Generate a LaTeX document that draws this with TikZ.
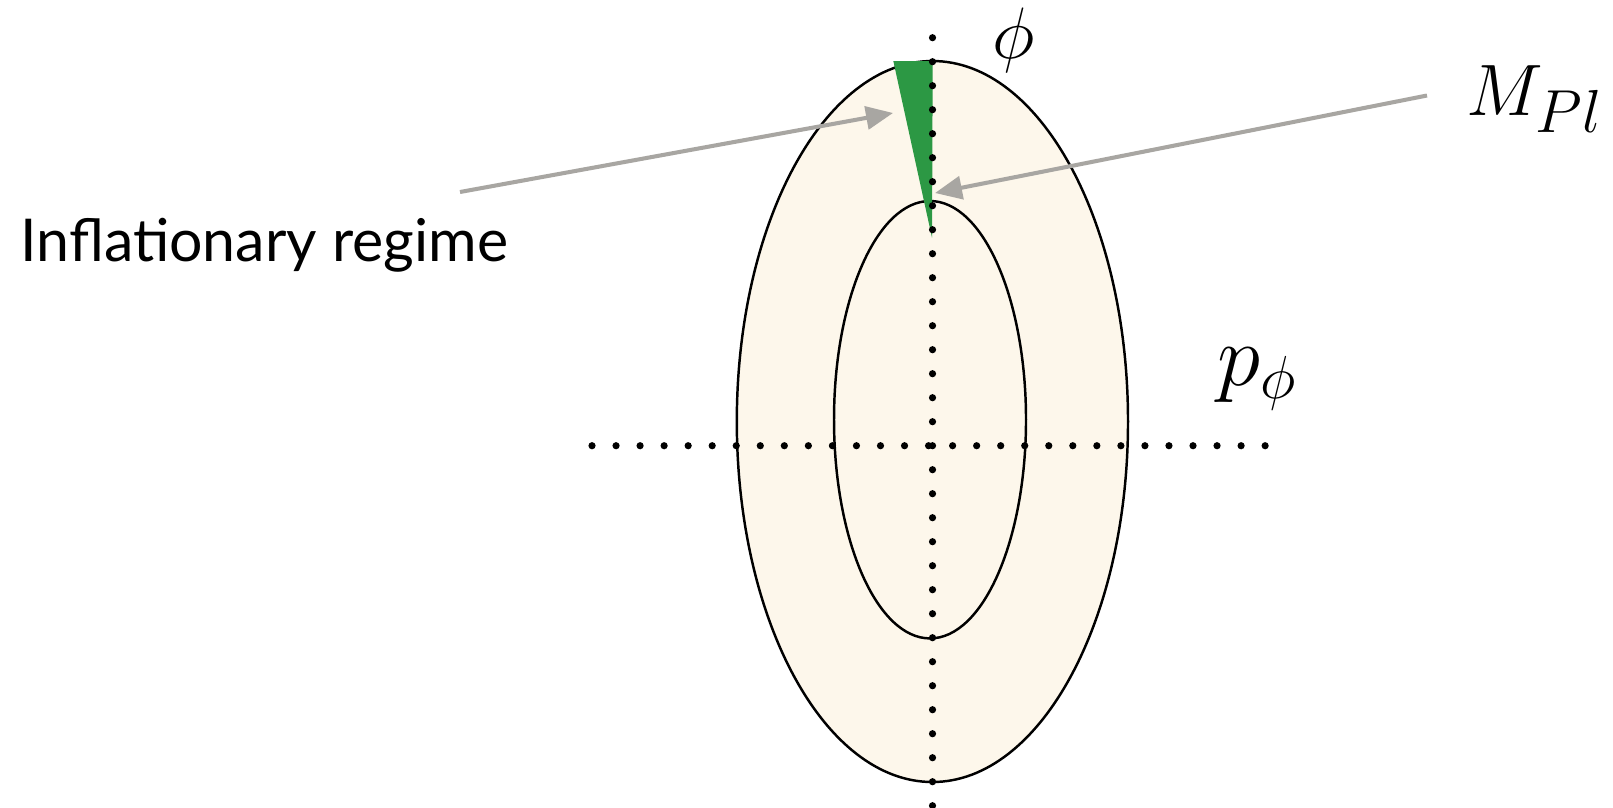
\documentclass[tikz,border=0pt]{standalone}
\usepackage{fontspec}
\newfontfamily\labelfont{Lato}
\usetikzlibrary{arrows.meta}
\definecolor{cream}{RGB}{253,247,235}
\definecolor{wedgegreen}{RGB}{44,152,68}
\definecolor{arrowgray}{RGB}{168,166,162}
\tikzset{
  ring/.style={fill=cream, draw=black, line width=0.7pt},
  axisdot/.style={fill=black},
  pointer/.style={draw=arrowgray, line width=1.15pt, -{Triangle[length=2.7mm,width=2.3mm]}},
  mathlabel/.style={inner sep=0pt, anchor=base west},
  textlabel/.style={inner sep=0pt, anchor=base west, font=\labelfont\fontsize{16.8}{20}\selectfont}
}
\begin{document}
\begin{tikzpicture}[x=0.1mm,y=-0.1mm]
\useasboundingbox (0,0) rectangle (1613,807);
% ellipses
\path[ring] (932.4,421.5) ellipse [x radius=195.6, y radius=360.5];
\path[ring] (930,419.7) ellipse [x radius=96, y radius=218.7];
% green wedge
\fill[wedgegreen] (893.3,61) -- (932.7,61) -- (932,237.7) -- cycle;
% axes
\foreach \i in {0,...,32} \fill[axisdot] (932.5,37.7+24*\i) circle[radius=3.6];
\foreach \i in {0,...,28} \fill[axisdot] (592+24.04*\i,445.7) circle[radius=3.6];
% labels
\node[mathlabel, anchor=base, font=\fontsize{19.5}{23}\selectfont] (phi) at (1014,58) {$\phi$};
\node[mathlabel, font=\fontsize{22.5}{26}\selectfont] (mpl) at (1466,115) {$M_{\mbox{\fontsize{17.5}{20}\selectfont$Pl$}}$};
\node[mathlabel, font=\fontsize{24.5}{29}\selectfont] (pphi) at (1217,385) {$p_\phi$};
\node[textlabel] (infl) at (20,261.7) {Inflationary regime};
% pointers
\coordinate (a1s) at (460,192);
\coordinate (a1e) at (893,113);
\coordinate (a2s) at (1427,95.5);
\coordinate (a2e) at (935,193);
\draw[pointer] (a1s) -- (a1e);
\draw[pointer] (a2s) -- (a2e);
\end{tikzpicture}
\end{document}
